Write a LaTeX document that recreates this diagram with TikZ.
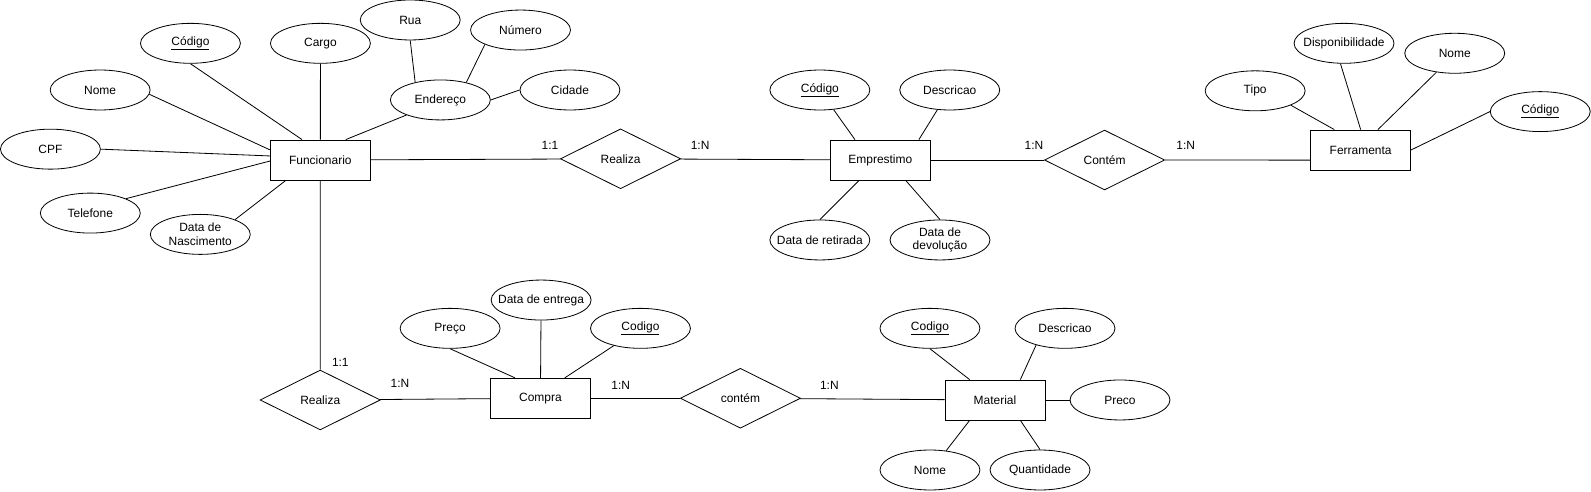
\documentclass[tikz,border=0pt]{standalone}
\usepackage{fontspec}
\setmainfont{Liberation Sans}
\usetikzlibrary{shapes.geometric}

\begin{document}
\begin{tikzpicture}[x=1pt, y=-1pt, line width=0.8pt,
    every node/.style={font=\fontsize{11.8}{13.5}\selectfont},
    entity/.style={draw, rectangle, minimum width=98.5pt, minimum height=39.4pt, inner sep=0pt},
    attrib/.style={draw, ellipse, minimum width=98.5pt, minimum height=39.4pt, inner xsep=-14pt, inner ysep=0pt, align=center},
    relation/.style={draw, diamond, minimum width=118.5pt, minimum height=59pt, inner sep=0pt},
    card/.style={inner sep=1pt}]
  \useasboundingbox (0,0) rectangle (1568,484);

  % entidades
  \node[entity] (fun) at (315.7,157.7) {Funcionario};
  \node[entity] (emp) at (867.6,157.7) {Emprestimo};
  \node[entity] (ferr) at (1341,147.8) {Ferramenta};
  \node[entity] (comp) at (532.6,392.5) {Compra};
  \node[entity] (mat) at (980.6,394.2) {Material};

  % relacionamentos
  \node[relation] (realEmp) at (611.6,156.5) {Realiza};
  \node[relation] (contFerr) at (1088.6,157.7) {Contém};
  \node[relation] (realComp) at (315.6,394.2) {Realiza};
  \node[relation] (contMat) at (729.7,392.5) {contém};

  % atributos de Funcionario
  \node[attrib] (fcod) at (187.7,42.7) {\underline{Código}};
  \node[attrib] (fcargo) at (315.8,42.7) {Cargo};
  \node[attrib] (fnome) at (98.7,88.7) {Nome};
  \node[attrib] (fcpf) at (49.7,147) {CPF};
  \node[attrib] (ftel) at (89,210) {Telefone};
  \node[attrib] (fnasc) at (197.4,231) {Data de\\Nascimento};
  \node[attrib] (fend) at (434,98.5) {Endereço};
  \node[attrib] (frua) at (404.3,19.7) {Rua};
  \node[attrib] (fnum) at (513,29.6) {Número};
  \node[attrib] (fcid) at (561.7,88.7) {Cidade};

  % atributos de Emprestimo
  \node[attrib] (ecod) at (808,88.7) {\underline{Código}};
  \node[attrib] (edesc) at (936,88.7) {Descricao};
  \node[attrib] (eret) at (808,236.5) {Data de retirada};
  \node[attrib] (edev) at (926.4,236.5) {Data de\\devolução};

  % atributos de Ferramenta
  \node[attrib] (ttipo) at (1237,89.5) {Tipo};
  \node[attrib] (tdisp) at (1324.6,42.7) {Disponibilidade};
  \node[attrib] (tnome) at (1433.7,52.5) {Nome};
  \node[attrib] (tcod) at (1518,110) {\underline{Código}};

  % atributos de Compra
  \node[attrib] (cpreco) at (443.6,323.6) {Preço};
  \node[attrib] (centr) at (533.3,295.7) {Data de entrega};
  \node[attrib] (ccod) at (631.2,323.6) {\underline{Codigo}};

  % atributos de Material
  \node[attrib] (mcod) at (916.5,323.6) {\underline{Codigo}};
  \node[attrib] (mdesc) at (1049.6,323.6) {Descricao};
  \node[attrib] (mpreco) at (1103.8,394.2) {Preco};
  \node[attrib] (mnome) at (916.5,463.2) {Nome};
  \node[attrib] (mqtd) at (1025,463.2) {Quantidade};

  % cardinalidades
  \node[card] (k1) at (542,143) {1:1};
  \node[card] (k2) at (690,143) {1:N};
  \node[card] (k3) at (1019,143) {1:N};
  \node[card] (k4) at (1168.6,143) {1:N};
  \node[card] (k5) at (335.4,357.4) {1:1};
  \node[card] (k6) at (394.2,377.8) {1:N};
  \node[card] (k7) at (611.8,379.4) {1:N};
  \node[card] (k8) at (817.4,379.4) {1:N};

  % ligacoes
  \draw (fcod.south) -- ([xshift=-18pt]fun.north);
  \draw (fcargo) -- (fun);
  \draw (fend.-156) -- ([xshift=25pt]fun.north);
  \draw (fnome.-5) -- ([yshift=10pt]fun.west);
  \draw (fcpf.east) -- ([yshift=4pt]fun.west);
  \draw (ftel.22) -- ([yshift=-1pt]fun.west);
  \draw (fnasc.23) -- ([xshift=-34pt]fun.south);
  \draw (frua.south) -- (fend.145);
  \draw (fnum.-158) -- (fend.34);
  \draw (fend.east) -- (fcid.west);
  \draw (fun) -- (realEmp);
  \draw (fun) -- (realComp);

  \draw (realEmp) -- (emp);
  \draw (ecod.-55) -- ([xshift=-25pt]emp.north);
  \draw (edesc.-122) -- ([xshift=38pt]emp.north);
  \draw (eret.north) -- ([xshift=-21pt]emp.south);
  \draw (edev.north) -- ([xshift=25pt]emp.south);
  \draw (emp) -- (contFerr);
  \draw (contFerr) -- ([yshift=-10pt]ferr.west);

  \draw (ttipo.-22) -- ([xshift=-26pt]ferr.north);
  \draw (tdisp.-100) -- (ferr.north);
  \draw (tnome.-134) -- ([xshift=17pt]ferr.north);
  \draw (tcod.west) -- (ferr.east);

  \draw (realComp) -- (comp);
  \draw (cpreco.south) -- ([xshift=-25pt]comp.north);
  \draw (centr) -- (comp);
  \draw (ccod.-147) -- ([xshift=24pt]comp.north);
  \draw (comp) -- (contMat);
  \draw (contMat) -- (mat);

  \draw (mcod.south) -- ([xshift=-25pt]mat.north);
  \draw (mdesc.-150) -- ([xshift=25pt]mat.north);
  \draw (mat) -- (mpreco);
  \draw (mnome.50) -- ([xshift=-25pt]mat.south);
  \draw (mqtd.north) -- ([xshift=25pt]mat.south);
\end{tikzpicture}
\end{document}
